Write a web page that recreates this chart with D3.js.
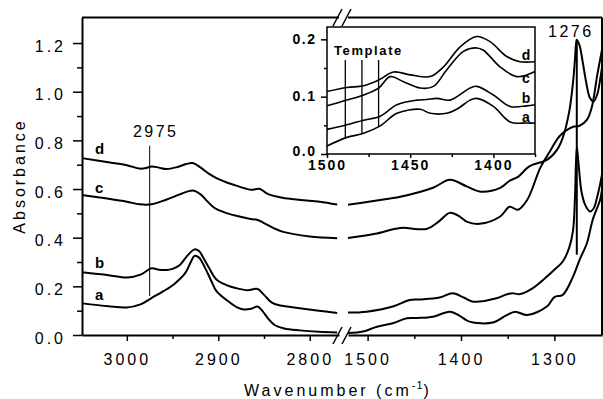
<!DOCTYPE html>
<html>
<head>
<meta charset="utf-8">
<script src="https://cdn.jsdelivr.net/npm/d3@7"></script>
<style>
  body { margin: 0; background: #fff; }
  svg text { font-family: "Liberation Sans", Arial, sans-serif; fill: #000; }
</style>
</head>
<body>
<svg id="chart" width="603" height="399"></svg>
<script>
// spectra, [wavenumber, absorbance], high-wavenumber part and low part of the broken axis
var aHigh = [[3049,0.130],[3020,0.118],[3000,0.113],[2985,0.126],[2973,0.152],[2960,0.180],[2948,0.210],[2936,0.255],[2930,0.300],[2926,0.325],[2921,0.318],[2915,0.280],[2908,0.225],[2902,0.180],[2891,0.144],[2880,0.115],[2872,0.105],[2864,0.108],[2857,0.117],[2851,0.095],[2845,0.065],[2838,0.040],[2828,0.027],[2811,0.019],[2790,0.013],[2770,0.010]];
var bHigh = [[3049,0.258],[3020,0.246],[3000,0.236],[2985,0.248],[2973,0.274],[2965,0.268],[2957,0.267],[2950,0.272],[2942,0.288],[2934,0.325],[2926,0.352],[2921,0.345],[2917,0.322],[2910,0.275],[2902,0.228],[2891,0.205],[2880,0.192],[2868,0.184],[2857,0.189],[2850,0.165],[2841,0.132],[2830,0.120],[2819,0.114],[2790,0.100],[2770,0.090]];
var cHigh = [[3049,0.575],[3020,0.560],[3000,0.548],[2986,0.537],[2973,0.537],[2957,0.556],[2942,0.578],[2928,0.594],[2920,0.580],[2912,0.550],[2904,0.522],[2890,0.500],[2877,0.487],[2866,0.478],[2857,0.473],[2850,0.460],[2840,0.440],[2830,0.425],[2800,0.405],[2770,0.398]];
var dHigh = [[3049,0.727],[3020,0.710],[3000,0.698],[2986,0.684],[2979,0.686],[2973,0.693],[2965,0.688],[2957,0.682],[2945,0.690],[2935,0.703],[2928,0.707],[2920,0.690],[2910,0.662],[2902,0.645],[2890,0.626],[2877,0.610],[2864,0.597],[2855,0.601],[2846,0.580],[2830,0.564],[2810,0.555],[2789,0.548],[2770,0.536]];

var aLow = [[1521,0.008],[1505,0.014],[1490,0.034],[1473,0.048],[1458,0.069],[1447,0.070],[1430,0.075],[1412,0.096],[1401,0.078],[1391,0.055],[1366,0.051],[1351,0.082],[1342,0.096],[1329,0.082],[1308,0.117],[1300,0.156],[1291,0.165],[1280,0.240],[1273,0.309],[1265,0.379],[1259,0.473],[1251,0.556],[1249,0.597]];
var bLow = [[1521,0.092],[1501,0.096],[1473,0.117],[1455,0.144],[1444,0.146],[1423,0.154],[1409,0.172],[1396,0.152],[1387,0.137],[1362,0.151],[1351,0.167],[1345,0.172],[1337,0.168],[1323,0.193],[1308,0.240],[1300,0.268],[1291,0.302],[1284,0.360],[1280,0.430],[1278,0.560],[1276,0.774],[1274,0.700],[1271,0.590],[1267,0.535],[1262,0.508],[1258,0.520],[1254,0.570],[1251,0.620],[1249,0.660]];
var cLow = [[1521,0.399],[1492,0.416],[1465,0.440],[1437,0.436],[1423,0.469],[1412,0.502],[1401,0.486],[1394,0.466],[1380,0.457],[1358,0.487],[1348,0.527],[1339,0.515],[1329,0.556],[1315,0.688],[1305,0.753],[1294,0.819],[1280,0.856],[1273,0.860],[1265,0.885],[1260,0.935],[1254,1.070],[1249,1.173]];
var dLow = [[1521,0.535],[1492,0.552],[1465,0.568],[1430,0.605],[1412,0.638],[1394,0.611],[1380,0.590],[1358,0.605],[1348,0.634],[1339,0.650],[1329,0.687],[1323,0.700],[1308,0.720],[1297,0.762],[1291,0.811],[1284,0.920],[1280,1.040],[1278,1.130],[1276,1.214],[1273,1.190],[1270,1.130],[1266,1.040],[1262,0.975],[1258,0.960],[1254,0.990],[1251,1.050],[1249,1.100]];

// inset, 1500-1375 cm-1
var aInset = [[1500,0.014],[1488,0.029],[1478,0.036],[1468,0.049],[1458,0.071],[1444,0.078],[1438,0.071],[1428,0.071],[1422,0.078],[1414,0.094],[1410,0.097],[1400,0.083],[1390,0.056],[1380,0.054],[1375,0.054]];
var bInset = [[1500,0.043],[1488,0.051],[1478,0.059],[1468,0.066],[1458,0.086],[1446,0.094],[1440,0.095],[1434,0.097],[1426,0.094],[1414,0.115],[1410,0.118],[1400,0.103],[1390,0.083],[1380,0.084],[1375,0.086]];
var cInset = [[1500,0.084],[1488,0.094],[1478,0.103],[1469,0.115],[1462,0.135],[1454,0.126],[1444,0.115],[1436,0.118],[1428,0.147],[1418,0.179],[1410,0.185],[1406,0.181],[1396,0.152],[1386,0.135],[1375,0.144]];
var dInset = [[1500,0.109],[1488,0.116],[1478,0.119],[1469,0.129],[1460,0.143],[1450,0.138],[1438,0.135],[1430,0.152],[1420,0.187],[1410,0.205],[1402,0.196],[1392,0.170],[1384,0.161],[1375,0.161]];
var templateLines = [1489, 1479, 1469];
var templateTop = 0.164;

// ticks
var yMajor = [0, 0.2, 0.4, 0.6, 0.8, 1.0, 1.2];
var yMinor = [0.1, 0.3, 0.5, 0.7, 0.9, 1.1];
var xHighMajor = [3000, 2900, 2800];
var xHighMinor = [2950, 2850];
var xLowMajor = [1500, 1400, 1300];
var xLowMinor = [1450, 1350];
var inYMajor = [0, 0.1, 0.2];
var inYMinor = [0.05, 0.15];
var inXMajor = [1500, 1450, 1400];
var inXMinor = [1475, 1425, 1375];

// marked bands
var mark2975 = {wn: 2975, top: 0.778, bottom: 0.160};
var mark1276 = {wn: 1276, top: 1.214, bottom: 0.330};

var svg = d3.select("#chart");

var xHi = d3.scaleLinear().domain([3049, 2768]).range([82, 339]),
    xLo = d3.scaleLinear().domain([1521, 1249]).range([348, 602]),
    y = d3.scaleLinear().domain([0, 1.305]).range([335, 17.5]);

var xIn = d3.scaleLinear().domain([1500, 1375]).range([327, 535]),
    yIn = d3.scaleLinear().domain([0, 0.2215]).range([154, 27]);

function lineFor(xs, ys) {
  return d3.line()
    .x(function(d) { return xs(d[0]); })
    .y(function(d) { return ys(d[1]); })
    .curve(d3.curveCatmullRom.alpha(0.5));
}

// curves
var lineHi = lineFor(xHi, y), lineLo = lineFor(xLo, y), lineIn = lineFor(xIn, yIn);
[aHigh, bHigh, cHigh, dHigh].forEach(function(s) {
  svg.append("path").attr("d", lineHi(s)).attr("fill", "none").attr("stroke", "#000").attr("stroke-width", 2);
});
[aLow, bLow, cLow, dLow].forEach(function(s) {
  svg.append("path").attr("d", lineLo(s)).attr("fill", "none").attr("stroke", "#000").attr("stroke-width", 2);
});

// marker lines
svg.append("line")
  .attr("x1", xHi(mark2975.wn)).attr("x2", xHi(mark2975.wn))
  .attr("y1", y(mark2975.top)).attr("y2", y(mark2975.bottom))
  .attr("stroke", "#000").attr("stroke-width", 1);
svg.append("text")
  .attr("x", xHi(mark2975.wn) + 6).attr("y", y(mark2975.top) - 9)
  .attr("text-anchor", "middle").attr("font-size", 16).style("letter-spacing", "2.5px")
  .text("2975");
svg.append("line")
  .attr("x1", xLo(mark1276.wn)).attr("x2", xLo(mark1276.wn))
  .attr("y1", y(mark1276.top)).attr("y2", y(mark1276.bottom))
  .attr("stroke", "#000").attr("stroke-width", 2);
svg.append("text")
  .attr("x", xLo(mark1276.wn) - 6).attr("y", y(mark1276.top) - 3)
  .attr("text-anchor", "middle").attr("font-size", 16).style("letter-spacing", "2.5px")
  .text("1276");

// series labels
var seriesLabels = [["d", 0.746], ["c", 0.585], ["b", 0.275], ["a", 0.144]];
svg.selectAll(".slabel").data(seriesLabels).enter().append("text")
  .attr("class", "slabel")
  .attr("x", 95).attr("y", function(d) { return y(d[1]); })
  .attr("font-size", 15).attr("font-weight", "bold")
  .text(function(d) { return d[0]; });

// axes
function styleAxis(g, size) {
  g.attr("font-family", null).attr("font-size", size);
  g.selectAll("line").attr("stroke-width", 1.5);
}

var gy = svg.append("g").attr("transform", "translate(82,0)")
  .call(d3.axisLeft(y).tickValues(yMajor).tickSize(9).tickSizeOuter(0).tickFormat(d3.format(".1f")));
styleAxis(gy, 16);
gy.select(".domain").attr("stroke-width", 2);
gy.selectAll("text").attr("x", -16).attr("dy", "0.5em").style("letter-spacing", "3px");
svg.append("g").attr("transform", "translate(82,0)")
  .call(d3.axisLeft(y).tickValues(yMinor).tickSize(5).tickFormat(""))
  .call(function(g) { g.select(".domain").remove(); g.selectAll("line").attr("stroke-width", 1.5); });

[[xHi, xHighMajor, xHighMinor], [xLo, xLowMajor, xLowMinor]].forEach(function(p) {
  var gx = svg.append("g").attr("transform", "translate(0,335)")
    .call(d3.axisBottom(p[0]).tickValues(p[1]).tickSize(6).tickSizeOuter(0).tickFormat(d3.format("d")));
  styleAxis(gx, 16);
  gx.select(".domain").attr("stroke-width", 2);
  gx.selectAll("text").attr("y", 19).style("letter-spacing", "3px");
  svg.append("g").attr("transform", "translate(0,335)")
    .call(d3.axisBottom(p[0]).tickValues(p[2]).tickSize(4).tickFormat(""))
    .call(function(g) { g.select(".domain").remove(); g.selectAll("line").attr("stroke-width", 1.5); });
});

// frame top and right
svg.append("line").attr("x1", 82).attr("x2", xHi.range()[1]).attr("y1", 17.5).attr("y2", 17.5).attr("stroke", "#000").attr("stroke-width", 2);
svg.append("line").attr("x1", xLo.range()[0]).attr("x2", 602).attr("y1", 17.5).attr("y2", 17.5).attr("stroke", "#000").attr("stroke-width", 2);
svg.append("line").attr("x1", 602).attr("x2", 602).attr("y1", 17.5).attr("y2", 335).attr("stroke", "#000").attr("stroke-width", 2);

// break marks
[17.5, 335.5].forEach(function(cy) {
  [337.5, 346.5].forEach(function(cx) {
    svg.append("line")
      .attr("x1", cx - 4.5).attr("y1", cy + 8.5)
      .attr("x2", cx + 4.5).attr("y2", cy - 8.5)
      .attr("stroke", "#000").attr("stroke-width", 1.5);
  });
});

// axis titles
svg.append("text")
  .attr("transform", "translate(25,176) rotate(-90)")
  .attr("text-anchor", "middle").attr("font-size", 16).style("letter-spacing", "3px")
  .text("Absorbance");
var xt = svg.append("text")
  .attr("x", 338).attr("y", 396)
  .attr("text-anchor", "middle").attr("font-size", 16).style("letter-spacing", "3px");
xt.append("tspan").text("Wavenumber (cm");
xt.append("tspan").attr("font-size", 11).attr("dy", -7).style("letter-spacing", "1px").text("-1");
xt.append("tspan").attr("dy", 7).text(")");

// inset
var inset = svg.append("g");
inset.append("rect")
  .attr("x", xIn.range()[0]).attr("y", yIn.range()[1])
  .attr("width", xIn.range()[1] - xIn.range()[0]).attr("height", yIn.range()[0] - yIn.range()[1])
  .attr("fill", "#fff").attr("stroke", "#000").attr("stroke-width", 1.5);

[aInset, bInset, cInset, dInset].forEach(function(s) {
  inset.append("path").attr("d", lineIn(s)).attr("fill", "none").attr("stroke", "#000").attr("stroke-width", 1.6);
});

var aInterp = function(wn) {
  var i = d3.bisector(function(d) { return -d[0]; }).left(aInset, -wn);
  var p0 = aInset[i - 1], p1 = aInset[i];
  return p0[1] + (p1[1] - p0[1]) * (wn - p0[0]) / (p1[0] - p0[0]);
};
inset.selectAll(".tpl").data(templateLines).enter().append("line")
  .attr("class", "tpl")
  .attr("x1", function(d) { return xIn(d); }).attr("x2", function(d) { return xIn(d); })
  .attr("y1", yIn(templateTop)).attr("y2", function(d) { return yIn(aInterp(d)); })
  .attr("stroke", "#000").attr("stroke-width", 1.3);
inset.append("text")
  .attr("x", 334).attr("y", 55)
  .attr("font-size", 13).attr("font-weight", "bold").style("letter-spacing", "1.6px")
  .text("Template");

var insetLabels = [["d", 0.164], ["c", 0.124], ["b", 0.089], ["a", 0.056]];
inset.selectAll(".ilabel").data(insetLabels).enter().append("text")
  .attr("class", "ilabel")
  .attr("x", 526).attr("y", function(d) { return yIn(d[1]); })
  .attr("text-anchor", "middle")
  .attr("font-size", 14).attr("font-weight", "bold")
  .text(function(d) { return d[0]; });

var giy = inset.append("g").attr("transform", "translate(327,0)")
  .call(d3.axisLeft(yIn).tickValues(inYMajor).tickSize(6).tickSizeOuter(0).tickFormat(d3.format(".1f")));
giy.attr("font-family", null).attr("font-size", 14).attr("font-weight", "bold");
giy.select(".domain").remove();
giy.selectAll("line").attr("stroke-width", 1.5);
giy.selectAll("text").attr("x", -10.5).attr("dy", "0.28em").style("letter-spacing", "1.5px");
giy.selectAll("text").filter(function(d) { return d === 0; }).attr("dy", "0.12em");
inset.append("g").attr("transform", "translate(327,0)")
  .call(d3.axisLeft(yIn).tickValues(inYMinor).tickSize(3).tickFormat(""))
  .call(function(g) { g.select(".domain").remove(); g.selectAll("line").attr("stroke-width", 1.5); });

var gix = inset.append("g").attr("transform", "translate(0,154)")
  .call(d3.axisBottom(xIn).tickValues(inXMajor).tickSize(4).tickSizeOuter(0).tickFormat(d3.format("d")));
gix.attr("font-family", null).attr("font-size", 14).attr("font-weight", "bold");
gix.select(".domain").remove();
gix.selectAll("line").attr("stroke-width", 1.5);
gix.selectAll("text").attr("y", 6).style("letter-spacing", "2px");
inset.append("g").attr("transform", "translate(0,154)")
  .call(d3.axisBottom(xIn).tickValues(inXMinor).tickSize(3).tickFormat(""))
  .call(function(g) { g.select(".domain").remove(); g.selectAll("line").attr("stroke-width", 1.5); });
</script>
</body>
</html>
